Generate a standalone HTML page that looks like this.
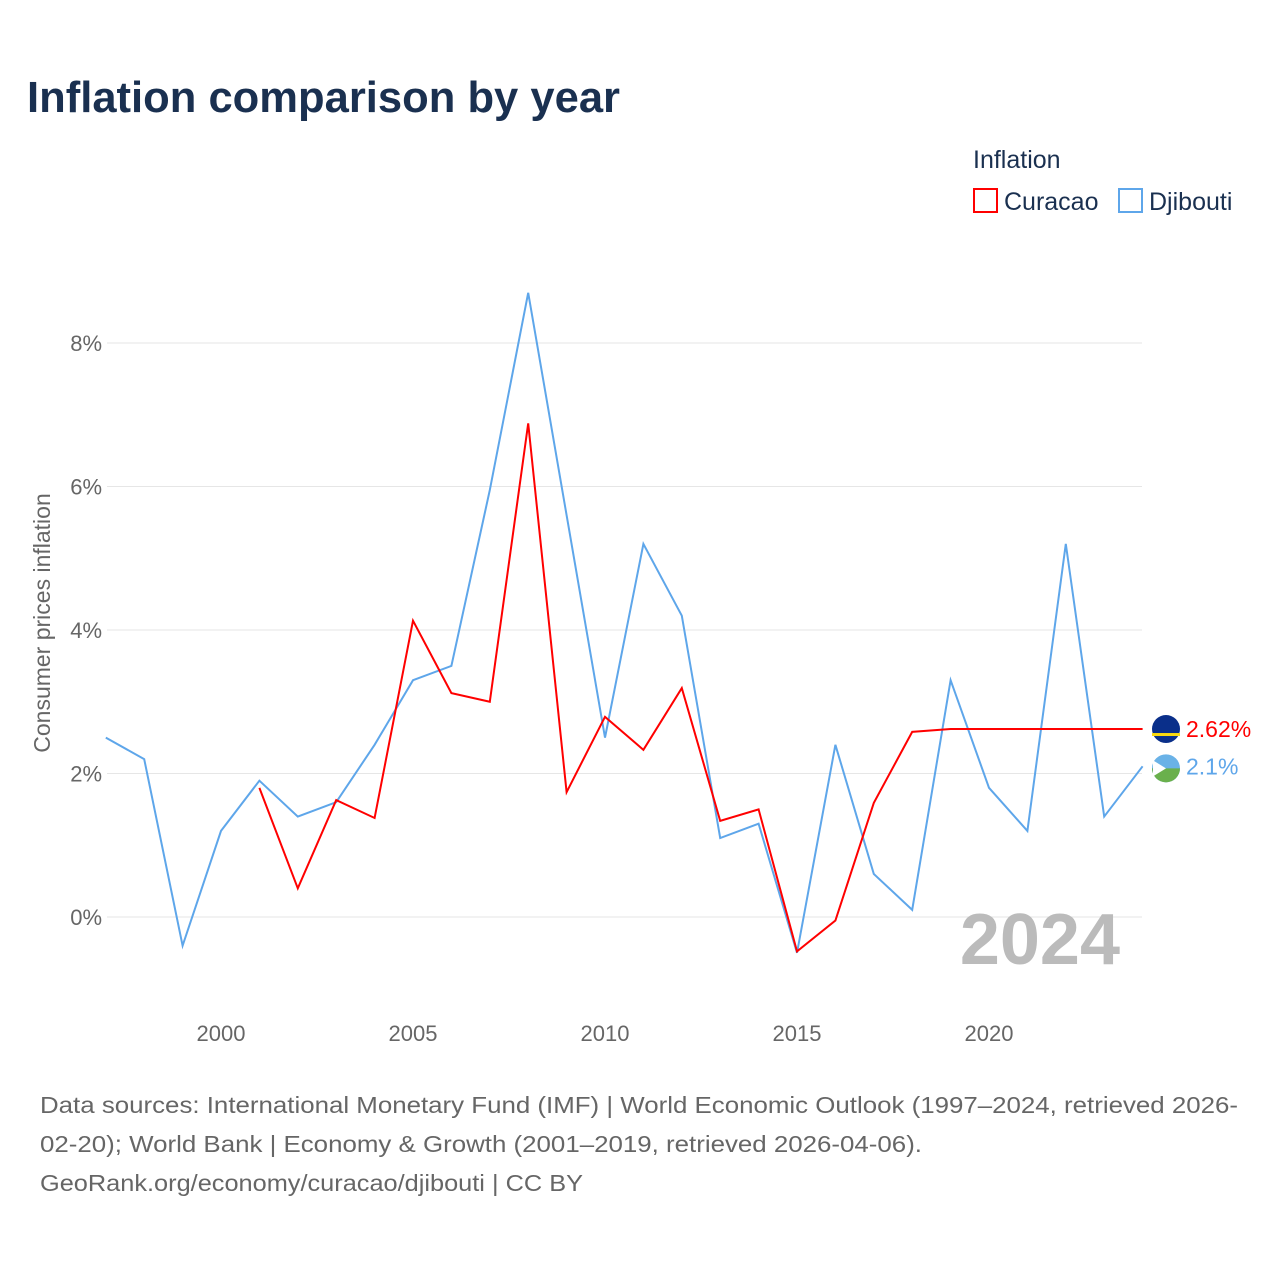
<!DOCTYPE html>
<html><head><meta charset="utf-8"><style>
body{margin:0;width:1280px;height:1280px;background:#fff;font-family:"Liberation Sans",sans-serif;}
</style></head><body>
<svg width="1280" height="1280" style="position:absolute;left:0;top:0">
<text x="27" y="112" font-size="44" font-weight="bold" fill="#1a3050" textLength="593" lengthAdjust="spacingAndGlyphs">Inflation comparison by year</text>
<text x="973" y="168" font-size="25" fill="#1a3050">Inflation</text>
<g><rect x="974" y="189" width="23" height="23" fill="none" stroke="#f00" stroke-width="2"/><text x="1004" y="210" font-size="25" fill="#1a3050">Curacao</text></g>
<g><rect x="1119" y="189" width="23" height="23" fill="none" stroke="#5ea6ea" stroke-width="2"/><text x="1149" y="210" font-size="25" fill="#1a3050">Djibouti</text></g>
<g id="grid"></g><g id="lines"></g>
<text transform="translate(50,623) rotate(-90)" text-anchor="middle" font-size="23" fill="#666">Consumer prices inflation</text>
<text x="1120" y="964" text-anchor="end" font-size="72" font-weight="bold" fill="#bbb">2024</text>
<text x="40" y="1113" font-size="23" fill="#666" textLength="1198" lengthAdjust="spacingAndGlyphs">Data sources: International Monetary Fund (IMF) | World Economic Outlook (1997–2024, retrieved 2026-</text>
<text x="40" y="1152" font-size="23" fill="#666" textLength="882" lengthAdjust="spacingAndGlyphs">02-20); World Bank | Economy &amp; Growth (2001–2019, retrieved 2026-04-06).</text>
<text x="40" y="1191" font-size="23" fill="#666" textLength="543" lengthAdjust="spacingAndGlyphs">GeoRank.org/economy/curacao/djibouti | CC BY</text>
</svg>
<script>
const djYears=[1997,1998,1999,2000,2001,2002,2003,2004,2005,2006,2007,2008,2009,2010,2011,2012,2013,2014,2015,2016,2017,2018,2019,2020,2021,2022,2023,2024];
const djVals=[2.5,2.2,-0.4,1.2,1.9,1.4,1.6,2.4,3.3,3.5,5.95,8.7,5.6,2.5,5.2,4.2,1.1,1.3,-0.5,2.4,0.6,0.1,3.3,1.8,1.2,5.2,1.4,2.1];
const cuYears=[2001,2002,2003,2004,2005,2006,2007,2008,2009,2010,2011,2012,2013,2014,2015,2016,2017,2018,2019];
const cuVals=[1.8,0.4,1.63,1.38,4.13,3.12,3.0,6.88,1.74,2.79,2.33,3.19,1.34,1.5,-0.48,-0.05,1.59,2.58,2.62];
const yTicks=[0,2,4,6,8];
const xTicks=[2000,2005,2010,2015,2020];
const lastYear=2024;
const X=y=>221+(y-2000)*38.4, Y=v=>917-v*71.75;
const NS="http://www.w3.org/2000/svg";
const g=document.getElementById('grid'), L=document.getElementById('lines');
function mk(tag,at,parent){const e=document.createElementNS(NS,tag);for(const k in at)e.setAttribute(k,at[k]);parent.appendChild(e);return e;}
yTicks.forEach(t=>{
 const l=mk('line',{x1:107,x2:1142,y1:Y(t),y2:Y(t),stroke:'#e6e6e6'},g);
 
 
 const tx=mk('text',{x:102,y:Y(t)+8,'text-anchor':'end','font-size':22,fill:'#666'},g);tx.textContent=t+'%';
 
 
});
xTicks.forEach(t=>{
 const tx=mk('text',{x:X(t),y:1041,'text-anchor':'middle','font-size':22,fill:'#666'},g);tx.textContent=t;
 
 
});
const dj=mk('polyline',{points:djYears.map((y,i)=>X(y)+','+Y(djVals[i])).join(' '),fill:'none',stroke:'#5ea6ea','stroke-width':2},L);


const cuLast=cuVals[cuVals.length-1];
const cuPts=cuYears.map((y,i)=>X(y)+','+Y(cuVals[i]));cuPts.push(X(lastYear)+','+Y(cuLast));
const cu=mk('polyline',{points:cuPts.join(' '),fill:'none',stroke:'#f00','stroke-width':2},L);


const djLast=djVals[djVals.length-1];
const c1=mk('circle',{cx:1166,cy:Y(cuLast),r:14,fill:'#0a2f8a'},L);


mk('rect',{x:1152,y:Y(cuLast)+4,width:28,height:3,fill:'#f9d90f'},L);
const c2=mk('circle',{cx:1166,cy:Y(djLast)+2,r:14,fill:'#6ab2e7'},L);


mk('path',{d:`M1152,${Y(djLast)+2} h28 a14,14 0 0 1 -28,0z`,fill:'#6ab04c'},L);
mk('path',{d:`M1153,${Y(djLast)-6} L1166,${Y(djLast)+2} L1153,${Y(djLast)+10}z`,fill:'#fff'},L);
const l1=mk('text',{x:1186,y:Y(cuLast)+8,'font-size':23,fill:'#f00'},L);l1.textContent=cuLast+'%';


const l2=mk('text',{x:1186,y:Y(djLast)+8,'font-size':23,fill:'#5ea6ea'},L);l2.textContent=djLast+'%';


</script>
</body></html>
